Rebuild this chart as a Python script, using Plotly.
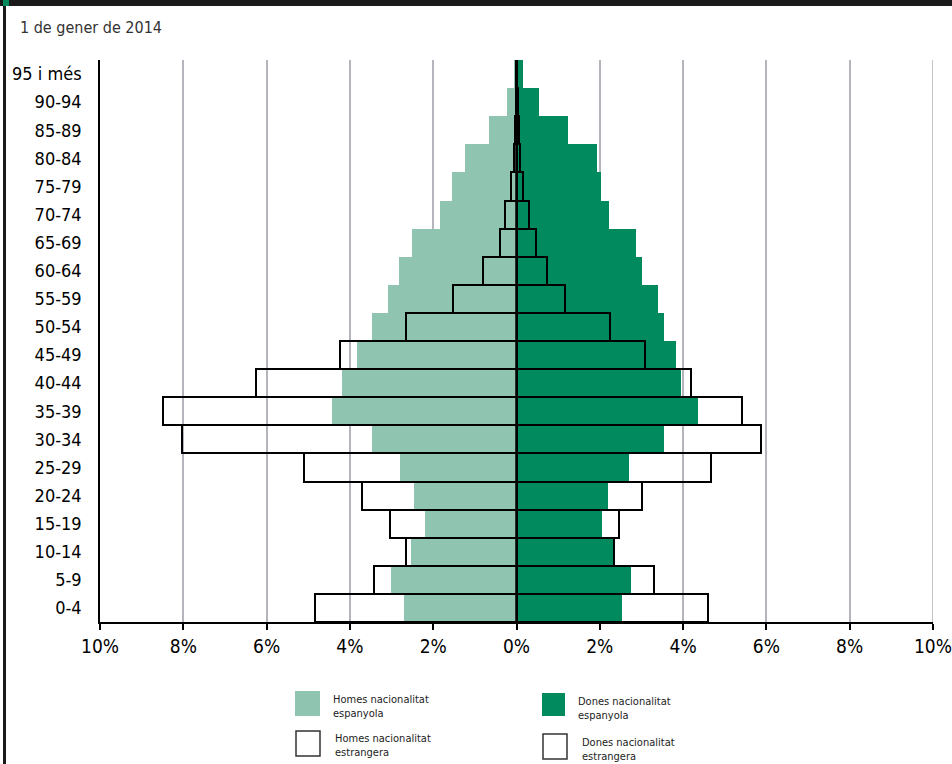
import plotly.graph_objects as go

age_groups = ["0-4", "5-9", "10-14", "15-19", "20-24", "25-29", "30-34", "35-39",
              "40-44", "45-49", "50-54", "55-59", "60-64", "65-69", "70-74",
              "75-79", "80-84", "85-89", "90-94", "95 i més"]
men_spanish = [2.69, 3.02, 2.54, 2.19, 2.45, 2.79, 3.47, 4.42, 4.20, 3.82,
               3.47, 3.08, 2.83, 2.51, 1.84, 1.54, 1.24, 0.66, 0.23, 0.05]
women_spanish = [2.53, 2.76, 2.34, 2.06, 2.20, 2.70, 3.54, 4.36, 3.94, 3.82,
                 3.54, 3.39, 3.02, 2.87, 2.21, 2.03, 1.94, 1.23, 0.54, 0.15]
men_foreign = [4.84, 3.41, 2.66, 3.03, 3.70, 5.10, 8.03, 8.48, 6.26, 4.24,
               2.66, 1.53, 0.81, 0.40, 0.28, 0.13, 0.07, 0.04, 0.02, 0.01]
women_foreign = [4.60, 3.29, 2.34, 2.45, 3.02, 4.68, 5.88, 5.42, 4.19, 3.09,
                 2.25, 1.17, 0.74, 0.48, 0.31, 0.16, 0.08, 0.06, 0.04, 0.02]
tick_values = [-10, -8, -6, -4, -2, 0, 2, 4, 6, 8, 10]
tick_labels = ["10%", "8%", "6%", "4%", "2%", "0%", "2%", "4%", "6%", "8%", "10%"]

LIGHT = "#8fc4b1"
DARK = "#008a5e"
GRID = "#b4b4bc"
FONT = "DejaVu Sans Condensed"

fig = go.Figure()
fig.add_trace(go.Bar(y=age_groups, x=[-v for v in men_spanish], orientation="h",
                     marker=dict(color=LIGHT, line=dict(width=0)),
                     name="Homes nacionalitat espanyola", showlegend=False))
fig.add_trace(go.Bar(y=age_groups, x=women_spanish, orientation="h",
                     marker=dict(color=DARK, line=dict(width=0)),
                     name="Dones nacionalitat espanyola", showlegend=False))
fig.add_trace(go.Bar(y=age_groups, x=[-v for v in men_foreign], orientation="h",
                     marker=dict(color="rgba(0,0,0,0)", line=dict(color="black", width=2)),
                     name="Homes nacionalitat estrangera", showlegend=False))
fig.add_trace(go.Bar(y=age_groups, x=women_foreign, orientation="h",
                     marker=dict(color="rgba(0,0,0,0)", line=dict(color="black", width=2)),
                     name="Dones nacionalitat estrangera", showlegend=False))

W, H = 952, 764
L, R, T, B = 100, 19, 60, 142
pw, ph = W - L - R, H - T - B

def px(x):
    return (x - L) / pw

def py(y):
    return 1 - (y - T) / ph

shapes = []
# frame decorations
shapes.append(dict(type="rect", xref="paper", yref="paper", x0=px(0), x1=px(W), y0=py(0), y1=py(6),
                   fillcolor="#1a1a1a", line=dict(width=0), layer="above"))
shapes.append(dict(type="rect", xref="paper", yref="paper", x0=px(3), x1=px(6), y0=py(0), y1=py(H),
                   fillcolor="#1a1a1a", line=dict(width=0), layer="above"))
shapes.append(dict(type="rect", xref="paper", yref="paper", x0=px(3), x1=px(9), y0=py(0), y1=py(6),
                   fillcolor=DARK, line=dict(width=0), layer="above"))
# right-edge gridline at the last tick
shapes.append(dict(type="line", xref="x", yref="paper", x0=tick_values[-1], x1=tick_values[-1],
                   y0=0, y1=1, line=dict(color=GRID, width=1.5), layer="below"))
# zero line
shapes.append(dict(type="line", xref="x", yref="paper", x0=0, x1=0, y0=0, y1=1,
                   line=dict(color="black", width=2.5), layer="above"))

# legend squares
legend_items = [
    (295, 691, 320, 716, LIGHT, 0, "Homes nacionalitat<br>espanyola", 331, 706),
    (542, 693, 565, 716, DARK, 0, "Dones nacionalitat<br>espanyola", 576, 709),
    (296, 731, 320, 756, "white", 1.5, "Homes nacionalitat<br>estrangera", 333, 745),
    (543, 734, 567, 759, "white", 1.5, "Dones nacionalitat<br>estrangera", 580, 749),
]
annotations = []
for x0, y0, x1, y1, col, lw, txt, tx, ty in legend_items:
    shapes.append(dict(type="rect", xref="paper", yref="paper", x0=px(x0), x1=px(x1),
                       y0=py(y1), y1=py(y0), fillcolor=col,
                       line=dict(color="#333333", width=lw) if lw else dict(width=0)))
    annotations.append(dict(xref="paper", yref="paper", x=px(tx), y=py(ty), text=txt,
                            showarrow=False, xanchor="left", yanchor="middle", align="left",
                            font=dict(family=FONT, size=11, color="#222222")))

annotations.append(dict(xref="paper", yref="paper", x=px(18), y=py(28), text="1 de gener de 2014",
                        showarrow=False, xanchor="left", yanchor="middle",
                        font=dict(family=FONT, size=16, color="#333333")))

fig.update_layout(
    width=W, height=H,
    margin=dict(l=L, r=R, t=T, b=B, autoexpand=False),
    barmode="overlay", bargap=0,
    plot_bgcolor="white", paper_bgcolor="white",
    shapes=shapes, annotations=annotations,
    font=dict(family=FONT, size=19, color="black"),
)
fig.update_xaxes(range=[-10.001, 10.001], tickvals=tick_values, ticktext=tick_labels,
                 showgrid=True, gridcolor=GRID, gridwidth=1.5,
                 showline=True, linecolor="black", linewidth=1.5,
                 ticks="outside", ticklen=6, tickcolor="black", tickwidth=1.5,
                 zeroline=False, automargin=False,
                 tickfont=dict(family=FONT, size=19))
fig.update_yaxes(range=[-0.5, 19.5], categoryorder="array", categoryarray=age_groups,
                 showgrid=False, showline=True, linecolor="black", linewidth=1.5,
                 ticks="", ticklabelstandoff=13, automargin=False,
                 tickfont=dict(family=FONT, size=18))

fig.write_html("out.html", config={"displayModeBar": False},
               post_script="document.body.style.margin='0';document.body.style.overflow='hidden';")
